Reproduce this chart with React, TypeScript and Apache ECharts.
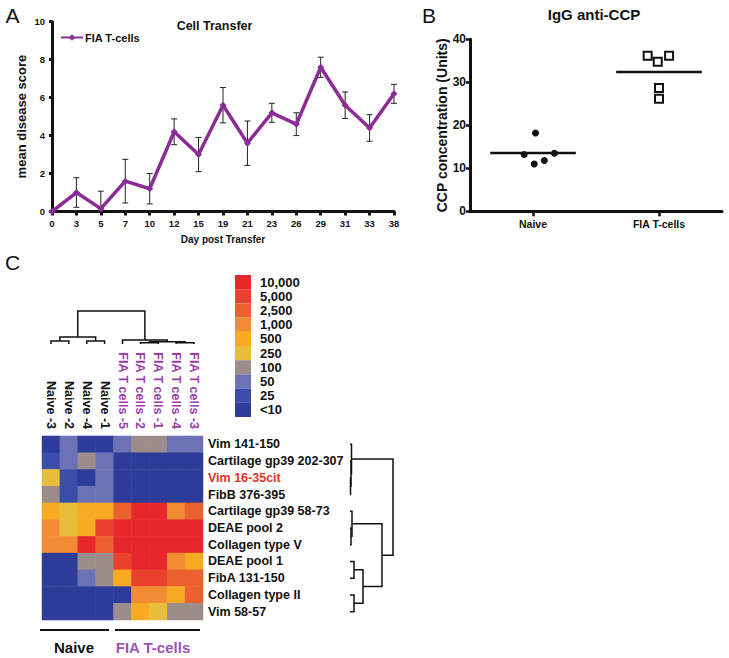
import React, { useEffect, useRef } from "react";
import * as echarts from "echarts";

const FONT = "'Liberation Sans', Arial, Helvetica, sans-serif";
const PURPLE = "#8B2C96";
const LABEL_PURPLE = "#9C3BAA";
const GROUP_PURPLE = "#A052B2";
const INK = "#111111";

// ---------- Panel A: Cell Transfer ----------
const days = ["0", "3", "5", "7", "10", "12", "15", "19", "21", "23", "26", "29", "31", "33", "38"];
const meanScore = [0, 1.0, 0.15, 1.6, 1.2, 4.2, 3.0, 5.6, 3.6, 5.2, 4.6, 7.6, 5.6, 4.4, 6.2];
const scoreErr = [0, 0.78, 0.92, 1.15, 0.8, 0.68, 0.9, 0.93, 1.17, 0.5, 0.6, 0.53, 0.7, 0.7, 0.5];

// ---------- Panel B: IgG anti-CCP ----------
const groups = ["Naive", "FIA T-cells"];
const naiveCCP = [18.2, 13.2, 13.5, 11.0, 11.8];
const naiveX = [1.02, 0.93, 1.17, 1.01, 1.09];
const fiaCCP = [36.2, 34.8, 36.2, 28.7, 26.2];
const fiaX = [1.91, 1.99, 2.08, 2.0, 2.0];

// ---------- Panel C: heatmap ----------
const columns = [
  "Naive -3", "Naive -2", "Naive -4", "Naive -1",
  "FIA T cells -5", "FIA T cells -2", "FIA T cells -1", "FIA T cells -4", "FIA T cells -3",
];
const rows = [
  "Vim 141-150", "Cartilage gp39 202-307", "Vim 16-35cit", "FibB 376-395",
  "Cartilage gp39 58-73", "DEAE pool 2", "Collagen type V", "DEAE pool 1",
  "FibA 131-150", "Collagen type II", "Vim 58-57",
];
const levelLabels = ["<10", "25", "50", "100", "250", "500", "1,000", "2,500", "5,000", "10,000"];
const levelColors = ["#2C3C98", "#3A4DA8", "#6D72B7", "#9C8C8A", "#E6BE3C", "#F8AA22", "#F28C33", "#EC602F", "#E9412D", "#E6272C"];
// level index per cell (rows x columns)
const heatLevels = [
  [0, 2, 0, 0, 2, 3, 3, 2, 2],
  [1, 2, 3, 2, 0, 0, 0, 0, 0],
  [4, 1, 0, 2, 0, 0, 0, 0, 0],
  [3, 1, 2, 2, 0, 0, 0, 0, 0],
  [5, 4, 5, 5, 7, 9, 9, 6, 7],
  [6, 4, 5, 8, 9, 9, 9, 9, 9],
  [6, 6, 9, 7, 9, 9, 9, 9, 9],
  [0, 0, 3, 3, 8, 9, 9, 6, 5],
  [0, 0, 2, 3, 5, 8, 8, 7, 7],
  [0, 0, 0, 0, 0, 6, 6, 5, 7],
  [0, 0, 0, 0, 3, 5, 4, 3, 3],
];
// dendrogram linkages: [childA, childB, height]
const colLinkage = [[0, 1, 0.9], [2, 3, 0.9], [9, 10, 2.1], [5, 6, 0.4], [7, 8, 0.4], [12, 13, 0.7], [4, 14, 1.2], [11, 15, 10]];
const rowLinkage = [[2, 3, 0.5], [1, 11, 1], [0, 12, 1.5], [5, 6, 1], [4, 14, 2], [7, 8, 4], [9, 10, 4], [16, 17, 13], [15, 18, 32], [13, 19, 43]];

function buildDendro(linkage: number[][], nLeaves: number) {
  const pos: number[] = Array.from({ length: nLeaves }, (_, i) => i);
  const h: number[] = Array(nLeaves).fill(0);
  const segs: number[][] = [];
  linkage.forEach(([a, b, ht]) => {
    segs.push([pos[a], pos[b], h[a], h[b], ht]);
    pos.push((pos[a] + pos[b]) / 2);
    h.push(ht);
  });
  return segs;
}

const mean = (a: number[]) => a.reduce((s, v) => s + v, 0) / a.length;

export default function App() {
  const ref = useRef<HTMLDivElement>(null);
  useEffect(() => {
    document.body.style.margin = "0";
    const chart = echarts.init(ref.current!, null, { renderer: "svg" });

    const axisLineStyle = { color: INK, width: 3 };
    const boldLabel = (size: number) => ({ fontFamily: FONT, fontWeight: "bold" as const, fontSize: size, color: INK });

    const heatData: number[][] = [];
    heatLevels.forEach((r, ri) => r.forEach((v, ci) => heatData.push([ci, ri, v])));

    const colSegs = buildDendro(colLinkage, columns.length);
    const rowSegs = buildDendro(rowLinkage, rows.length);
    const dendroStyle = { stroke: INK, lineWidth: 1.5, fill: "none" };

    const option: any = {
      animation: false,
      textStyle: { fontFamily: FONT },
      graphic: [
        { type: "text", x: 12.5, y: 15, style: { text: "A", fontSize: 21, fontFamily: FONT, fill: INK, align: "center", verticalAlign: "middle" } },
        { type: "text", x: 429, y: 15, style: { text: "B", fontSize: 21, fontFamily: FONT, fill: INK, align: "center", verticalAlign: "middle" } },
        { type: "text", x: 12.5, y: 262, style: { text: "C", fontSize: 21, fontFamily: FONT, fill: INK, align: "center", verticalAlign: "middle" } },
        { type: "text", x: 214.5, y: 26, style: { text: "Cell Transfer", fontSize: 12.5, fontWeight: "bold", fontFamily: FONT, fill: INK, align: "center", verticalAlign: "middle" } },
        { type: "text", x: 594, y: 14, style: { text: "IgG anti-CCP", fontSize: 15, fontWeight: "bold", fontFamily: FONT, fill: INK, align: "center", verticalAlign: "middle" } },
        { type: "line", shape: { x1: 40, y1: 630, x2: 109, y2: 630 }, style: { stroke: INK, lineWidth: 2 } },
        { type: "line", shape: { x1: 115, y1: 630, x2: 200, y2: 630 }, style: { stroke: INK, lineWidth: 2 } },
        { type: "text", x: 74, y: 647, style: { text: "Naive", fontSize: 15, fontWeight: "bold", fontFamily: FONT, fill: INK, align: "center", verticalAlign: "middle" } },
        { type: "text", x: 153, y: 647, style: { text: "FIA T-cells", fontSize: 15, fontWeight: "bold", fontFamily: FONT, fill: GROUP_PURPLE, align: "center", verticalAlign: "middle" } },
      ],
      legend: {
        data: ["FIA T-cells"],
        left: 60,
        top: 32,
        padding: 0,
        itemWidth: 22,
        itemHeight: 8,
        textStyle: { ...boldLabel(11), padding: [0, 0, 0, -3] },
      },
      grid: [
        { left: 52, top: 21.7, width: 342, height: 189.8 },
        { left: 470, top: 39.3, width: 252, height: 172 },
        { left: 42, top: 436, width: 161, height: 184 },
        { left: 42, top: 311, width: 161, height: 33 },
        { left: 350, top: 436, width: 45, height: 184 },
      ],
      xAxis: [
        {
          gridIndex: 0, type: "category", data: days, boundaryGap: false,
          axisLine: { lineStyle: axisLineStyle },
          axisTick: { alignWithLabel: true, length: 4, lineStyle: { color: INK, width: 3 } },
          axisLabel: { ...boldLabel(9.5), margin: 7, interval: 0 },
          name: "Day post Transfer", nameLocation: "middle", nameGap: 22.5,
          nameTextStyle: boldLabel(10),
        },
        {
          gridIndex: 1, type: "value", min: 0.5, max: 2.5,
          axisLine: { lineStyle: axisLineStyle },
          axisTick: { customValues: [1, 2], length: 5, lineStyle: { color: INK, width: 2.5 } },
          axisLabel: { ...boldLabel(10.5), margin: 7, customValues: [1, 2], formatter: (v: number) => groups[Math.round(v) - 1] ?? "" },
          splitLine: { show: false },
        },
        {
          gridIndex: 2, type: "category", data: columns, position: "top",
          axisLine: { show: false }, axisTick: { show: false }, splitLine: { show: false },
          axisLabel: {
            ...boldLabel(12.5), rotate: 90, margin: 7, interval: 0,
            color: (_v: string, i: number) => (i < 4 ? INK : LABEL_PURPLE),
          },
        },
        { gridIndex: 3, type: "value", min: -0.5, max: 8.5, show: false },
        { gridIndex: 4, type: "value", min: 0, max: 45, show: false },
      ],
      yAxis: [
        {
          gridIndex: 0, type: "value", min: 0, max: 10, interval: 2,
          axisLine: { show: true, lineStyle: axisLineStyle },
          axisTick: { show: true, length: 3, lineStyle: { color: INK, width: 3 } },
          axisLabel: { ...boldLabel(9.5), margin: 7 },
          splitLine: { show: false },
          name: "mean disease score", nameLocation: "middle", nameGap: 24.5,
          nameTextStyle: boldLabel(13),
        },
        {
          gridIndex: 1, type: "value", min: 0, max: 40, interval: 10,
          axisLine: { show: true, lineStyle: axisLineStyle },
          axisTick: { show: true, length: 4, lineStyle: { color: INK, width: 2.5 } },
          axisLabel: { ...boldLabel(12), margin: 4 },
          splitLine: { show: false },
          name: "CCP concentration (Units)", nameLocation: "middle", nameGap: 21,
          nameTextStyle: boldLabel(14),
        },
        {
          gridIndex: 2, type: "category", data: rows, inverse: true, position: "right",
          axisLine: { show: false }, axisTick: { show: false }, splitLine: { show: false },
          axisLabel: {
            ...boldLabel(12.5), margin: 5, interval: 0,
            color: (_v: string, i: number) => (i === 2 ? "#E0342A" : INK),
          },
        },
        { gridIndex: 3, type: "value", min: 0, max: 10, show: false },
        { gridIndex: 4, type: "value", min: -0.5, max: 10.5, inverse: true, show: false },
      ],
      visualMap: {
        type: "piecewise",
        seriesIndex: 6,
        dimension: 2,
        orient: "vertical",
        left: 235,
        top: 275,
        padding: 0,
        itemWidth: 16,
        itemHeight: 14.2,
        itemGap: 0,
        textGap: 9,
        itemSymbol: "rect",
        align: "left",
        selectedMode: false,
        hoverLink: false,
        textStyle: boldLabel(13),
        pieces: levelLabels.map((l, i) => ({ min: i - 0.5, max: i + 0.5, label: l, color: levelColors[i] })),
      },
      series: [
        {
          name: "FIA T-cells", type: "line", xAxisIndex: 0, yAxisIndex: 0,
          data: meanScore, symbol: "diamond", symbolSize: 7, z: 3,
          lineStyle: { color: PURPLE, width: 3.5 }, itemStyle: { color: PURPLE },
        },
        {
          type: "custom", xAxisIndex: 0, yAxisIndex: 0, z: 2,
          data: meanScore.map((m, i) => [i, Math.max(0, m - scoreErr[i]), m + scoreErr[i]]),
          renderItem: (_p: any, api: any) => {
            if (api.value(2) - api.value(1) <= 0) return null;
            const top = api.coord([api.value(0), api.value(2)]);
            const bot = api.coord([api.value(0), api.value(1)]);
            const st = { stroke: "#222", lineWidth: 1 };
            const cap = 3;
            return {
              type: "group",
              children: [
                { type: "line", shape: { x1: top[0], y1: top[1], x2: bot[0], y2: bot[1] }, style: st },
                { type: "line", shape: { x1: top[0] - cap, y1: top[1], x2: top[0] + cap, y2: top[1] }, style: st },
                { type: "line", shape: { x1: bot[0] - cap, y1: bot[1], x2: bot[0] + cap, y2: bot[1] }, style: st },
              ],
            };
          },
        },
        {
          type: "scatter", xAxisIndex: 1, yAxisIndex: 1,
          data: naiveCCP.map((v, i) => [naiveX[i], v]),
          symbol: "circle", symbolSize: 7, itemStyle: { color: INK, opacity: 1 },
        },
        {
          type: "scatter", xAxisIndex: 1, yAxisIndex: 1,
          data: fiaCCP.map((v, i) => [fiaX[i], v]),
          symbol: "rect", symbolSize: 8, itemStyle: { color: "#fff", borderColor: INK, borderWidth: 2, opacity: 1 },
        },
        {
          type: "line", xAxisIndex: 1, yAxisIndex: 1, symbol: "none",
          data: [[1 - 0.34, mean(naiveCCP)], [1 + 0.34, mean(naiveCCP)]],
          lineStyle: { color: INK, width: 2.5 },
        },
        {
          type: "line", xAxisIndex: 1, yAxisIndex: 1, symbol: "none",
          data: [[2 - 0.34, mean(fiaCCP)], [2 + 0.34, mean(fiaCCP)]],
          lineStyle: { color: INK, width: 2.5 },
        },
        {
          type: "heatmap", xAxisIndex: 2, yAxisIndex: 2, data: heatData,
          itemStyle: { borderWidth: 0 }, emphasis: { disabled: true }, progressive: 0,
        },
        {
          type: "custom", xAxisIndex: 3, yAxisIndex: 3, data: colSegs,
          renderItem: (_p: any, api: any) => ({
            type: "polyline",
            shape: {
              points: [
                api.coord([api.value(0), api.value(2)]),
                api.coord([api.value(0), api.value(4)]),
                api.coord([api.value(1), api.value(4)]),
                api.coord([api.value(1), api.value(3)]),
              ],
            },
            style: dendroStyle,
          }),
        },
        {
          type: "custom", xAxisIndex: 4, yAxisIndex: 4, data: rowSegs,
          renderItem: (_p: any, api: any) => ({
            type: "polyline",
            shape: {
              points: [
                api.coord([api.value(2), api.value(0)]),
                api.coord([api.value(4), api.value(0)]),
                api.coord([api.value(4), api.value(1)]),
                api.coord([api.value(3), api.value(1)]),
              ],
            },
            style: dendroStyle,
          }),
        },
      ],
    };

    chart.setOption(option);
    return () => chart.dispose();
  }, []);
  return <div ref={ref} style={{ width: 729, height: 658 }} />;
}
